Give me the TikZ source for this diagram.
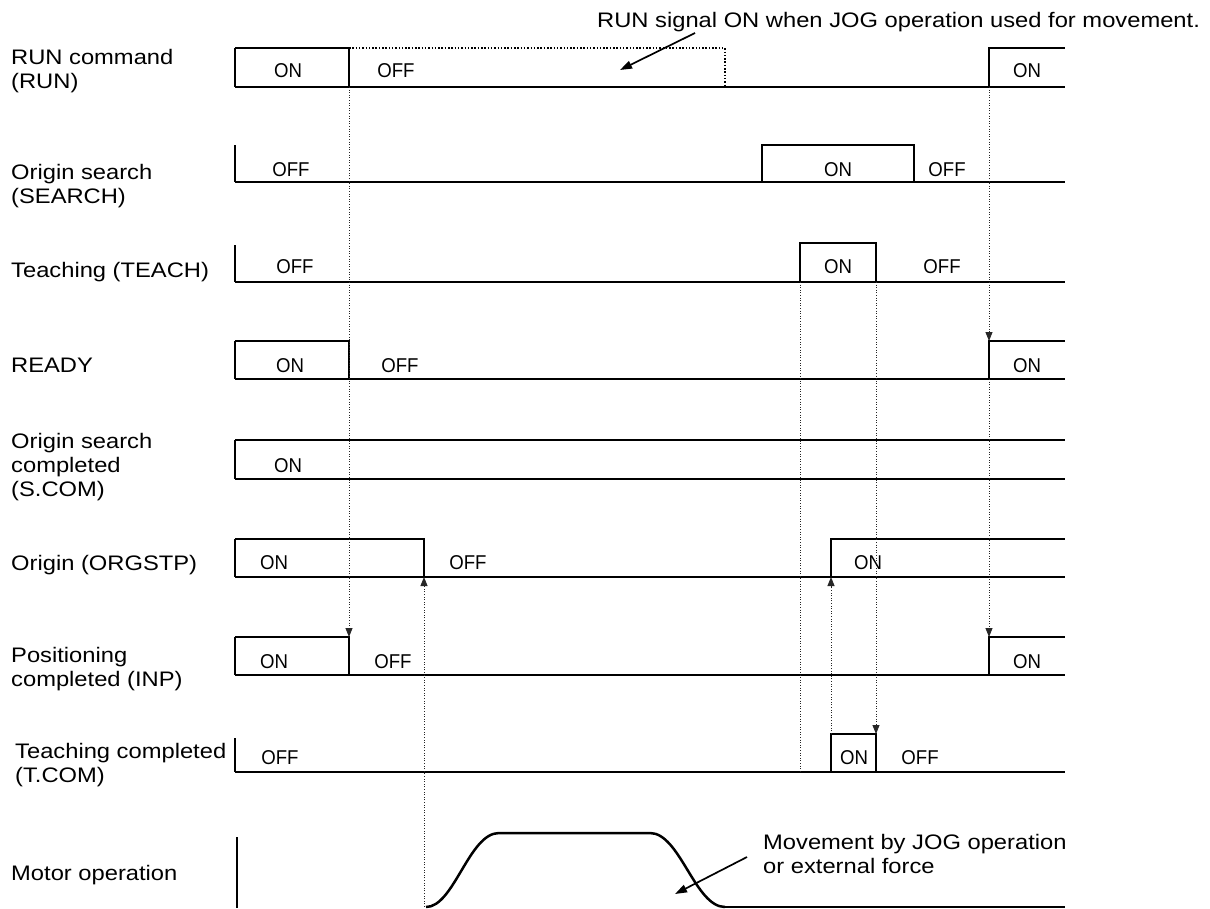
\documentclass[tikz,border=0pt]{standalone}
\usepackage{fontspec}
\setmainfont{Liberation Sans}[FakeStretch=1.13]
\newfontfamily\statefont{Liberation Sans}[FakeStretch=0.93]
\usepackage{tikz}
\usetikzlibrary{arrows.meta}

\begin{document}
\begin{tikzpicture}[x=1pt,y=-1pt,
  lbl/.style={anchor=base west,align=left,inner sep=0pt,font=\fontsize{21}{24}\selectfont},
  stlabel/.style={anchor=base,inner sep=0pt,font={\statefont\fontsize{20}{22}\selectfont}},
  wave/.style={line width=2.5pt,line join=miter},
  thinline/.style={line width=1.1pt},
  guide/.style={line width=0.9pt,dash pattern=on 1pt off 1.6pt,draw=black!85},
  guidearrow/.style={guide,-{Triangle[length=9pt,width=7pt]}},
  note/.style={line width=1.7pt,-{Triangle[length=12pt,width=8pt]}}
]
\useasboundingbox (0,0) rectangle (1210,908);

% signal names (anchored on the last line)
\node[lbl] (runlbl) at (11,88) {RUN command\\(RUN)};
\node[lbl] (searchlbl) at (11,203) {Origin search\\(SEARCH)};
\node[lbl] (teachlbl) at (11,277) {Teaching (TEACH)};
\node[lbl] (readylbl) at (11,372) {READY};
\node[lbl] (scomlbl) at (11,496) {Origin search\\completed\\(S.COM)};
\node[lbl] (orglbl) at (11,570) {Origin (ORGSTP)};
\node[lbl] (inplbl) at (11,686) {Positioning\\completed (INP)};
\node[lbl] (tcomlbl) at (15,782) {Teaching completed\\(T.COM)};
\node[lbl] (motorlbl) at (11,880) {Motor operation};

% RUN
\draw[thinline] (235,48) -- (235,87) (989,87) -- (1065,87);
\draw[wave] (235,87) -- (349,87);
\draw[wave] (235,48) -- (349,48) -- (349,87) -- (989,87) -- (989,48) -- (1065,48);
\draw[line width=1.5pt,dash pattern=on 1.5pt off 1.8pt] (349,48) -- (725,48) -- (725,87);
\node[stlabel] (runon) at (288,77) {ON};
\node[stlabel] (runoff) at (396,77) {OFF};
\node[stlabel] (runon2) at (1027,77) {ON};

% SEARCH
\draw[thinline] (235,145) -- (235,182) (762,182) -- (914,182);
\draw[wave] (235,182) -- (762,182) -- (762,145) -- (914,145) -- (914,182) -- (1065,182);
\node[stlabel] (searchoff) at (291,176) {OFF};
\node[stlabel] (searchon) at (838,176) {ON};
\node[stlabel] (searchoff2) at (947,176) {OFF};

% TEACH
\draw[thinline] (235,245) -- (235,282) (800,282) -- (876,282);
\draw[wave] (235,282) -- (800,282) -- (800,243) -- (876,243) -- (876,282) -- (1065,282);
\node[stlabel] (teachoff) at (295,273) {OFF};
\node[stlabel] (teachon) at (838,273) {ON};
\node[stlabel] (teachoff2) at (942,273) {OFF};

% READY
\draw[thinline] (235,341) -- (235,379) (989,379) -- (1065,379);
\draw[wave] (235,379) -- (349,379);
\draw[wave] (235,341) -- (349,341) -- (349,379) -- (989,379) -- (989,341) -- (1065,341);
\node[stlabel] (readyon) at (290,372) {ON};
\node[stlabel] (readyoff) at (400,372) {OFF};
\node[stlabel] (readyon2) at (1027,372) {ON};

% S.COM
\draw[thinline] (235,440) -- (235,479);
\draw[wave] (235,440) -- (1065,440);
\draw[wave] (235,479) -- (1065,479);
\node[stlabel] (scomon) at (288,472) {ON};

% ORGSTP
\draw[thinline] (235,539) -- (235,577) (831,577) -- (1065,577);
\draw[wave] (235,577) -- (424,577);
\draw[wave] (235,539) -- (424,539) -- (424,577) -- (831,577) -- (831,539) -- (1065,539);
\node[stlabel] (orgon) at (274,569) {ON};
\node[stlabel] (orgoff) at (468,569) {OFF};
\node[stlabel] (orgon2) at (868,569) {ON};

% INP
\draw[thinline] (235,637) -- (235,675) (989,675) -- (1065,675);
\draw[wave] (235,675) -- (349,675);
\draw[wave] (235,637) -- (349,637) -- (349,675) -- (989,675) -- (989,637) -- (1065,637);
\node[stlabel] (inpon) at (274,668) {ON};
\node[stlabel] (inpoff) at (393,668) {OFF};
\node[stlabel] (inpon2) at (1027,668) {ON};

% T.COM
\draw[thinline] (235,738) -- (235,772) (831,772) -- (876,772);
\draw[wave] (235,772) -- (831,772) -- (831,734) -- (876,734) -- (876,772) -- (1065,772);
\node[stlabel] (tcomoff) at (280,764) {OFF};
\node[stlabel] (tcomon) at (854,764) {ON};
\node[stlabel] (tcomoff2) at (920,764) {OFF};

% motor
\draw[wave] (237,837) -- (237,908);
\draw[wave] (426,907) .. controls (454,907) and (469,833) .. (499,833) -- (650,833)
  .. controls (680,833) and (695,907) .. (725,907);
\draw[thinline] (725,907) -- (1065,907);

% timing guides
\coordinate (runfall) at (349,87);
\coordinate (inpfall) at (349,637);
\coordinate (orgfall) at (424,577);
\coordinate (motorstart) at (424,907);
\coordinate (teachrise) at (800,282);
\coordinate (tcomlow) at (800,772);
\coordinate (tcomrise) at (831,734);
\coordinate (orgrise) at (831,577);
\coordinate (teachfall) at (876,282);
\coordinate (tcomfall) at (876,734);
\coordinate (runrise) at (989,87);
\coordinate (readyrise) at (989,341);
\coordinate (readylow) at (989,379);
\coordinate (inprise) at (989,637);
\draw[guidearrow] (runfall) -- (inpfall);
\draw[guidearrow] (motorstart) -- (orgfall);
\draw[guide] (teachrise) -- (tcomlow);
\draw[guidearrow] (tcomrise) -- (orgrise);
\draw[guidearrow] (teachfall) -- (tcomfall);
\draw[guidearrow] (runrise) -- (readyrise);
\draw[guidearrow] (readylow) -- (inprise);

% notes
\node[lbl] (runnote) at (597,27) {RUN signal ON when JOG operation used for movement.};
\coordinate (runtip) at (620,70);
\draw[note] ([xshift=98pt,yshift=-6pt]runnote.base west) -- (runtip);
\node[lbl] (movenote) at (763,873) {Movement by JOG operation\\or external force};
\coordinate (movetip) at (675,894);
\draw[note] ([xshift=-16pt,yshift=16pt]movenote.base west) -- (movetip);
\end{tikzpicture}
\end{document}
